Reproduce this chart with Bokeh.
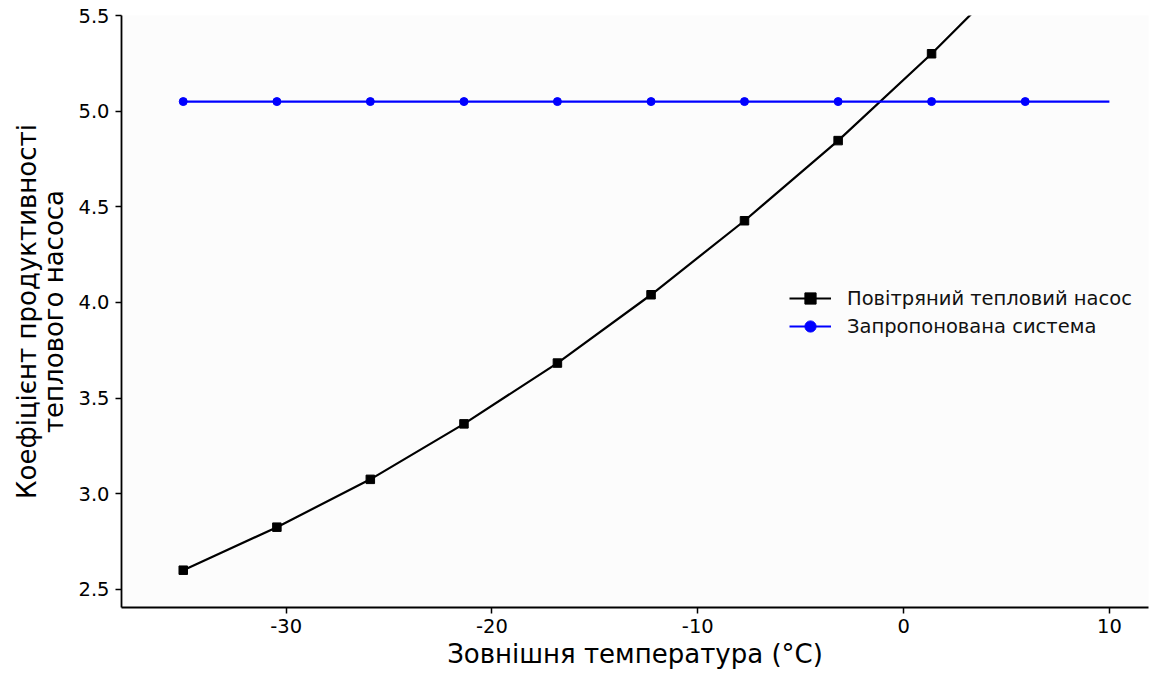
from bokeh.plotting import figure
from bokeh.models import Range1d, FixedTicker, PrintfTickFormatter, Legend, LegendItem
from bokeh.embed import file_html
from bokeh.resources import INLINE

# Outdoor temperature at marker positions (°C)
temps = [-35.0, -30.45, -25.91, -21.36, -16.82, -12.27, -7.73, -3.18, 1.36, 5.91, 10.0]
# COP of air-source heat pump (last two lie above the visible range)
cop_air = [2.60, 2.825, 3.075, 3.365, 3.683, 4.04, 4.427, 4.846, 5.30, 5.79, 6.25]
# COP of proposed system
cop_prop = [5.05, 5.05, 5.05, 5.05, 5.05, 5.05, 5.05, 5.05, 5.05, 5.05, 5.05]

x_ticks = [-30, -20, -10, 0, 10]
y_ticks = [2.5, 3.0, 3.5, 4.0, 4.5, 5.0, 5.5]

label_air = "Повітряний тепловий насос"
label_prop = "Запропонована система"
x_title = "Зовнішня температура (°C)"
y_title = "Коефіцієнт продуктивності\nтеплового насоса"

FONT = "DejaVu Sans"

p = figure(width=1149, height=672, output_backend="svg", toolbar_location=None,
           x_range=Range1d(-38.0, 11.9), y_range=Range1d(2.405, 5.5),
           min_border_left=121, min_border_right=1, min_border_top=15, min_border_bottom=65)

p.background_fill_color = "#fcfcfc"
p.border_fill_color = "white"
p.outline_line_color = None
p.grid.visible = False

l1 = p.line(temps, cop_air, line_color="black", line_width=2.2)
s1 = p.scatter(temps[:10], cop_air[:10], marker="square", size=8.5, color="black")
l2 = p.line(temps, cop_prop, line_color="blue", line_width=2.2)
s2 = p.scatter(temps[:10], cop_prop[:10], marker="circle", size=8, color="blue")

for ax in (p.xaxis[0], p.yaxis[0]):
    ax.axis_line_width = 1.8
    ax.axis_line_color = "black"
    ax.major_tick_in = 0
    ax.major_tick_out = 6
    ax.major_tick_line_width = 1.5
    ax.minor_tick_line_color = None
    ax.major_label_text_font = FONT
    ax.major_label_text_font_size = "19.5px"
    ax.major_label_text_color = "black"
    ax.axis_label_text_font = FONT
    ax.axis_label_text_font_size = "26px"
    ax.axis_label_text_font_style = "normal"
    ax.axis_label_text_color = "black"

p.xaxis.ticker = FixedTicker(ticks=x_ticks)
p.yaxis.ticker = FixedTicker(ticks=y_ticks)
p.xaxis.formatter = PrintfTickFormatter(format="%d")
p.yaxis.formatter = PrintfTickFormatter(format="%.1f")
p.xaxis.axis_label = x_title
p.yaxis.axis_label = y_title
p.yaxis.axis_label_text_line_height = 0.93
p.xaxis.major_label_standoff = 5
p.yaxis.major_label_standoff = 6
p.xaxis.axis_label_standoff = 3
p.yaxis.axis_label_standoff = 6

legend = Legend(items=[LegendItem(label=label_air, renderers=[l1, s1]),
                       LegendItem(label=label_prop, renderers=[l2, s2])],
                location=(668, 267))
legend.border_line_color = None
legend.background_fill_alpha = 0
legend.label_text_font = FONT
legend.label_text_font_size = "19.5px"
legend.label_text_color = "#111111"
legend.glyph_width = 42
legend.glyph_height = 28
legend.label_height = 28
legend.spacing = 0
legend.padding = 4
legend.margin = 0
legend.label_standoff = 16
p.add_layout(legend, "center")

open("out.html", "w").write(file_html(p, INLINE))
